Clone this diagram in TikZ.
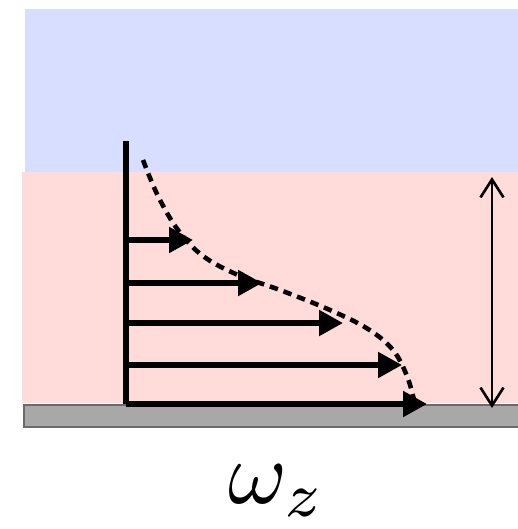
\documentclass[tikz,border=0pt]{standalone}
\usepackage{tikz}
\usetikzlibrary{arrows.meta}
\definecolor{Upper}{HTML}{D8DEFF}
\definecolor{Layer}{HTML}{FFDCDA}
\definecolor{Wall}{HTML}{A8A8A8}
\definecolor{WallEdge}{HTML}{6A6A6A}

\begin{document}
\begin{tikzpicture}[x=0.02cm,y=-0.02cm,
        vel/.style={-{Triangle[length=4.8mm,width=5mm]},line width=3pt},
        prof/.style={line width=2.6pt,dash pattern=on 0.17cm off 0.12cm},
        thick_ax/.style={line width=3.1pt},
        height/.style={{Straight Barb[length=3.6mm,width=4.6mm]}-{Straight Barb[length=3.6mm,width=4.6mm]},line width=1.5pt}]
        \useasboundingbox (0,0) rectangle (518,529);
        % regions
        \fill[Upper] (25,9) rectangle (518,172);
        \fill[Layer] (22,172) rectangle (518,403);
        \draw[fill=Wall,draw=WallEdge,line width=0.9pt] (24,405) rectangle (520,427);
        % axis
        \coordinate (top) at (126,141);
        \coordinate (wall) at (126,404);
        \draw[thick_ax] (top) -- (wall);
        % velocity vectors
        \foreach \i/\y/\u in {1/240/193, 2/283/262, 3/323/343, 4/365/402, 5/404/427} {
            \coordinate (b\i) at (126,\y);
            \coordinate (t\i) at (\u,\y);
            \draw[vel] (b\i) -- (t\i);
        }
        % profile
        \draw[prof] plot[smooth,tension=0.6] coordinates {(143,160) (158,196) (178,230) (203,256) (238,275) (280,290) (330,310) (368,329) (393,350) (407,376) (414,400)};
        % layer thickness
        \coordinate (htop) at (492,177);
        \coordinate (hbot) at (492,408);
        \draw[height] (htop) -- (hbot);
        \node[scale=5.1,anchor=base,inner sep=0pt] (lbl) at (277,503) {$\omega_z$};
      \end{tikzpicture}
\end{document}
